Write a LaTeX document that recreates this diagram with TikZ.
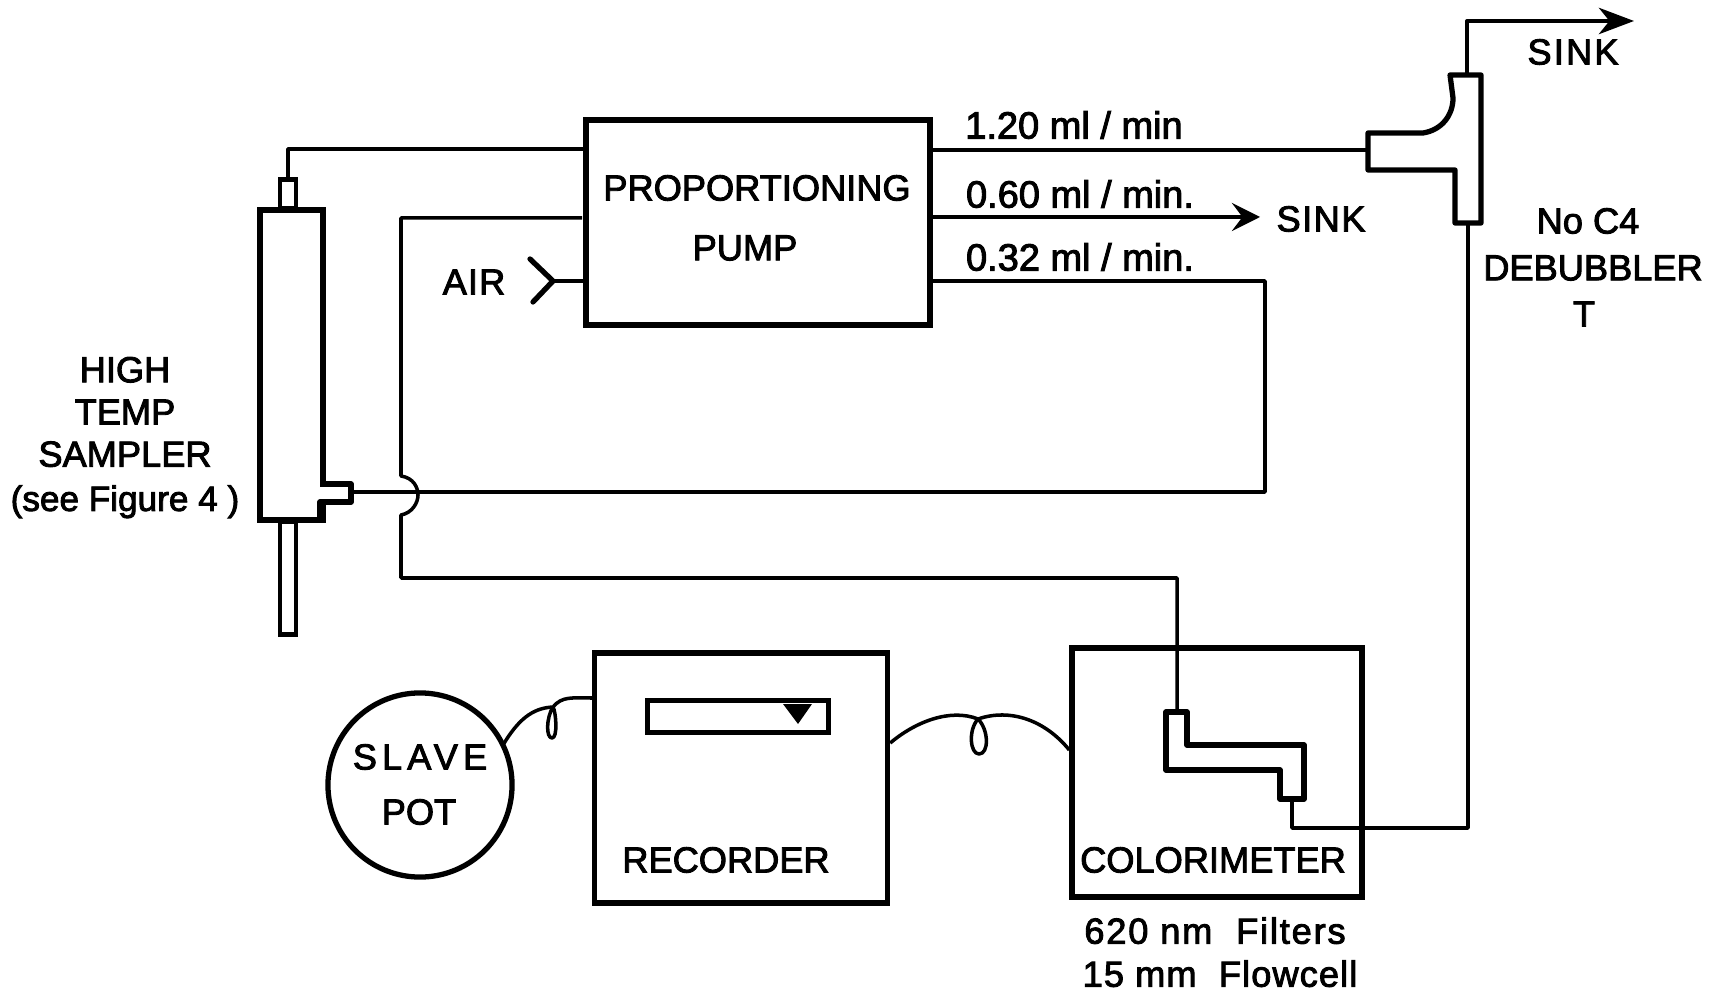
\documentclass[tikz,border=0pt]{standalone}
\usepackage{fontspec}
\setmainfont{Liberation Sans}[FakeBold=2.5]
\usetikzlibrary{arrows.meta, positioning}

\begin{document}
\begin{tikzpicture}[
    x=0.01cm, y=-0.01cm,
    box/.style={rectangle, draw=black, line width=1.5pt, inner sep=0pt},
    stub/.style={rectangle, draw=black, line width=1.3pt, inner sep=0pt},
    wall/.style={draw=black, line width=1.5pt, line join=round, line cap=round},
    tube/.style={draw=black, line width=1pt, line join=round},
    lbl/.style={font=\fontsize{10.3}{12}\selectfont, text=black, inner sep=0pt, align=center},
    flow/.style={lbl, font=\fontsize{10.8}{12}\selectfont},
    spaced/.style={lbl, font=\fontsize{10.3}{12}\selectfont\addfontfeature{LetterSpace=#1}},
    sinkarrow/.style={-{Stealth[length=8pt, width=8pt, inset=3pt]}},
]
    \useasboundingbox (0,0) rectangle (1710,992);

    % main boxes
    \node[box, minimum width=3.44cm, minimum height=2.05cm] (pump) at (758,222.5) {};
    \node[box, minimum width=2.93cm, minimum height=2.50cm] (recorder) at (741,778) {};
    \node[box, minimum width=2.90cm, minimum height=2.49cm] (colorimeter) at (1217,772.5) {};
    \node[box, circle, minimum size=1.84cm] (slavepot) at (420,785) {};
    \node[box, minimum width=1.81cm, minimum height=0.32cm] (window) at (738,716.5) {};

    % sampler
    \node[box, minimum width=0.63cm, minimum height=3.10cm] (sampler) at (291.5,365) {};
    \node[stub, minimum width=0.16cm, minimum height=0.29cm, above=-1pt of sampler, xshift=-0.035cm] (samplertop) {};
    \node[stub, minimum width=0.16cm, minimum height=1.13cm, below=-1pt of sampler, xshift=-0.035cm] (samplerstem) {};
    \coordinate (portend) at (351,492);
    \fill[white] (318,487) rectangle (328,499);
    \draw[wall] (323,484) -- (351,484) -- (351,502) -- (320,502) -- (320,520);

    % debubbler T
    \coordinate (teein) at (1368,150);
    \coordinate (teetop) at (1467,75);
    \coordinate (teebottom) at (1468,223);
    \draw[wall] (1450,75) -- (1481,75) -- (1481,223) -- (1455,223) -- (1455,170)
        -- (1368,170) -- (teein) -- (1368,133) -- (1423,133)
        .. controls (1442,130) and (1453,115) .. (1453,98) -- cycle;

    % flowcell
    \coordinate (cellin) at (1177,712);
    \coordinate (cellout) at (1292,799);
    \draw[wall] (1166,712) -- (1187,712) -- (1187,745) -- (1304,745) -- (1304,799)
        -- (1280,799) -- (1280,770) -- (1166,770) -- cycle;

    % air inlet
    \coordinate (airtip) at (553,281);
    \draw[wall] (530,259) -- (airtip) -- (533,302);
    \draw[tube] (airtip) -- (pump.west |- airtip);

    % tubing
    \coordinate (hopA) at (401,476);
    \coordinate (hopB) at (401,515);
    \coordinate (drainend) at (582,218);
    \draw[tube] (samplertop.north) |- (pump.west |- 0,149);
    \draw[tube] (drainend) -| (hopA) .. controls (414,478) and (418,488) .. (418,495)
        .. controls (418,503) and (412,513) .. (hopB) |- (1177,578) -- (cellin);
    \draw[tube] (portend) -- (1265,492) |- (pump.east |- 0,281);
    \draw[tube] (pump.east |- 0,150) -- (teein);
    \draw[tube, sinkarrow] (pump.east |- 0,217) -- (1260,217);
    \draw[tube] (cellout) |- (1468,828) -- (teebottom);
    \coordinate (topsink) at (1634,21);
    \draw[tube, line width=1.1pt, -{Stealth[length=10pt, width=7.5pt, inset=3pt]}] (teetop) |- (topsink);

    % triangle in the recorder window
    \fill[black] (783,704) -- (812,704) -- (798,724) -- cycle;

    % wires with a coil
    \draw[tube] (503,745) .. controls (518,720) and (532,708) .. (553,707)
        .. controls (546,718) and (546,738) .. (552,738)
        .. controls (558,738) and (556,712) .. (553,707)
        .. controls (562,696) and (572,698) .. (recorder.west |- 0,698);
    \draw[tube] (recorder.east |- 0,743) .. controls (915,722) and (950,708) .. (978,719)
        .. controls (968,730) and (970,754) .. (979,754)
        .. controls (989,754) and (989,730) .. (978,719)
        .. controls (1010,708) and (1045,720) .. (colorimeter.west |- 0,750);

    % labels
    \node[lbl] (pumplabel) at (757,188) {PROPORTIONING};
    \node[lbl] (pumplabelb) at (745,248) {PUMP};
    \node[spaced=3] (airlabel) at (474,282) {AIR};
    \node[spaced=14] (slavelabel) at (420,757) {SLAVE};
    \node[lbl] (potlabel) at (419,812) {POT};
    \node[lbl] (recorderlabel) at (726,860) {RECORDER};
    \node[lbl] (colorimeterlabel) at (1213,860) {COLORIMETER};
    \node[flow] (rateA) at (1074,125) {1.20 ml / min};
    \node[flow] (rateB) at (1080,194) {0.60 ml / min.};
    \node[flow] (rateC) at (1080,257) {0.32 ml / min.};
    \node[spaced=4] (sinkA) at (1321,219) {SINK};
    \node[spaced=6] (sinkB) at (1573,52) {SINK};
    \node[lbl] (nolabel) at (1588,221) {No C4};
    \node[lbl] (debubbler) at (1593,268) {DEBUBBLER};
    \node[lbl] (teelabel) at (1584,314) {T};
    \node[lbl] (highlabel) at (125,412) {HIGH\\ TEMP\\ SAMPLER};
    \node[lbl, font=\fontsize{10}{12}\selectfont, below=0.17cm of highlabel] (seelabel) {(see Figure 4 )};
    \node[spaced=5, below=0.17cm of colorimeter, xshift=-0.02cm] (filterlabel) {620 nm\ \ Filters};
    \node[spaced=3, below=0.15cm of filterlabel, xshift=0.05cm] (celllabel) {15 mm\ \ Flowcell};
\end{tikzpicture}
\end{document}
